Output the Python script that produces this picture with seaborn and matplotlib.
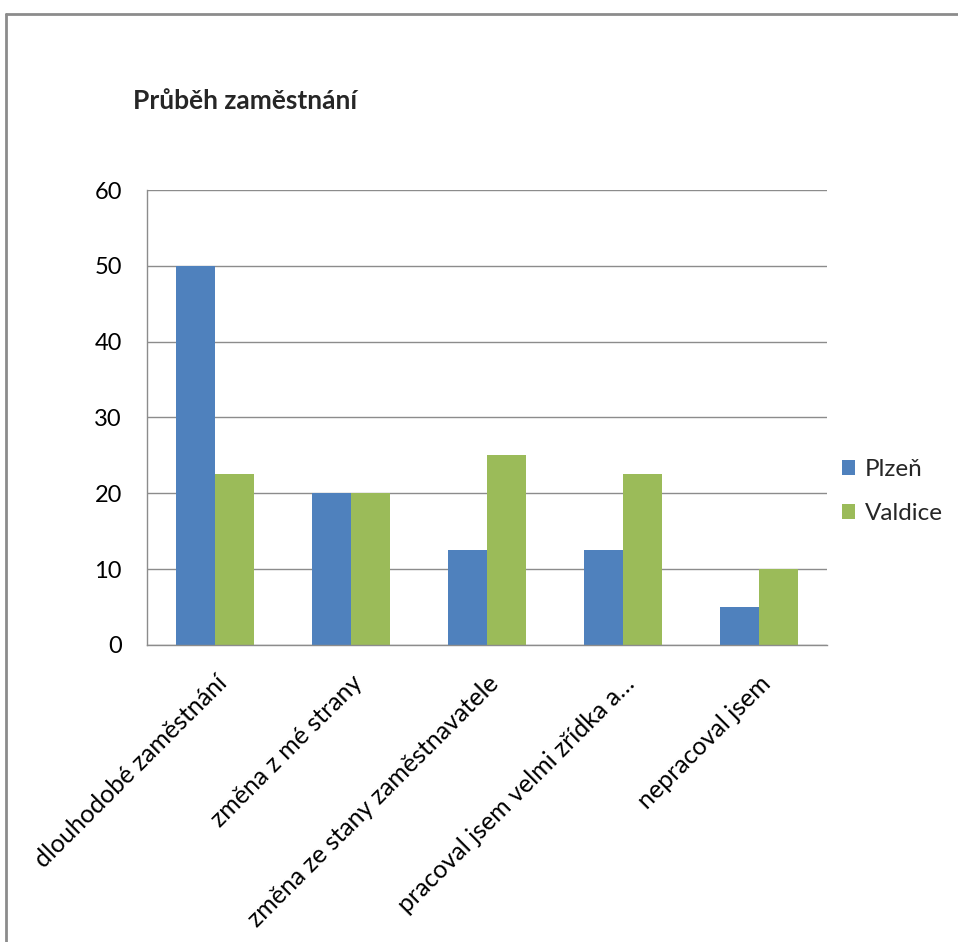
import numpy as np
import pandas as pd
import matplotlib
matplotlib.use("Agg")
import matplotlib.pyplot as plt
import seaborn as sns
from matplotlib.lines import Line2D

kategorie = ["dlouhodobé zaměstnání", "změna z mé strany", "změna ze stany zaměstnavatele",
             "pracoval jsem velmi zřídka a…", "nepracoval jsem"]
plzen = [50, 20, 12.5, 12.5, 5]
valdice = [22.5, 20, 25, 22.5, 10]
mesta = ["Plzeň", "Valdice"]
barvy = ["#4F81BD", "#9BBB59"]

df = pd.DataFrame({
    "kategorie": kategorie * 2,
    "hodnota": plzen + valdice,
    "mesto": [mesta[0]] * len(kategorie) + [mesta[1]] * len(kategorie),
})

sns.set_style("white")
plt.rcParams["font.family"] = ["Lato", "DejaVu Sans"]

seda = "#8C8C8C"
fig = plt.figure(figsize=(9.58, 9.42), dpi=100)
ax = fig.add_axes([0.1534, 0.3153, 0.7099, 0.4830])

sns.barplot(data=df, x="kategorie", y="hodnota", hue="mesto", palette=barvy,
            width=0.57, saturation=1, linewidth=0, ax=ax)

ax.set_ylim(0, 60)
ax.set_yticks(np.arange(0, 61, 10))
ax.set_xlim(-0.5, len(kategorie) - 0.5)
ax.set_xlabel("")
ax.set_ylabel("")
ax.yaxis.grid(True, color=seda, linewidth=1)
ax.set_axisbelow(True)

for s in ["top", "right"]:
    ax.spines[s].set_visible(False)
for s in ["left", "bottom"]:
    ax.spines[s].set_color(seda)
    ax.spines[s].set_linewidth(1)

ax.tick_params(axis="y", length=7, width=1, color=seda, labelsize=17, pad=11, labelcolor="black")
ax.set_xticks(np.arange(-0.5, len(kategorie), 1), minor=True)
ax.tick_params(axis="x", which="major", length=0, labelsize=18, pad=19, labelcolor="black")
ax.tick_params(axis="x", which="minor", length=7, width=1, color=seda)
plt.setp(ax.get_xticklabels(), rotation=45, ha="right", rotation_mode="anchor")

handles, labels = ax.get_legend_handles_labels()
ax.get_legend().remove()
fig.legend(handles, labels, loc="center left", bbox_to_anchor=(0.879, 0.478),
           frameon=False, fontsize=17.5, handlelength=0.55, handleheight=0.55,
           handletextpad=0.4, labelspacing=0.95, borderpad=0, borderaxespad=0)

fig.text(0.139, 0.893, "Průběh zaměstnání", fontsize=19, fontweight="bold",
         ha="left", va="center")

# okraj grafu
fig.add_artist(Line2D([0.006, 1], [0.985, 0.985], transform=fig.transFigure, color=seda, lw=2))
fig.add_artist(Line2D([0.006, 0.006], [0, 0.985], transform=fig.transFigure, color=seda, lw=2))

fig.savefig("out.png", dpi=100)
